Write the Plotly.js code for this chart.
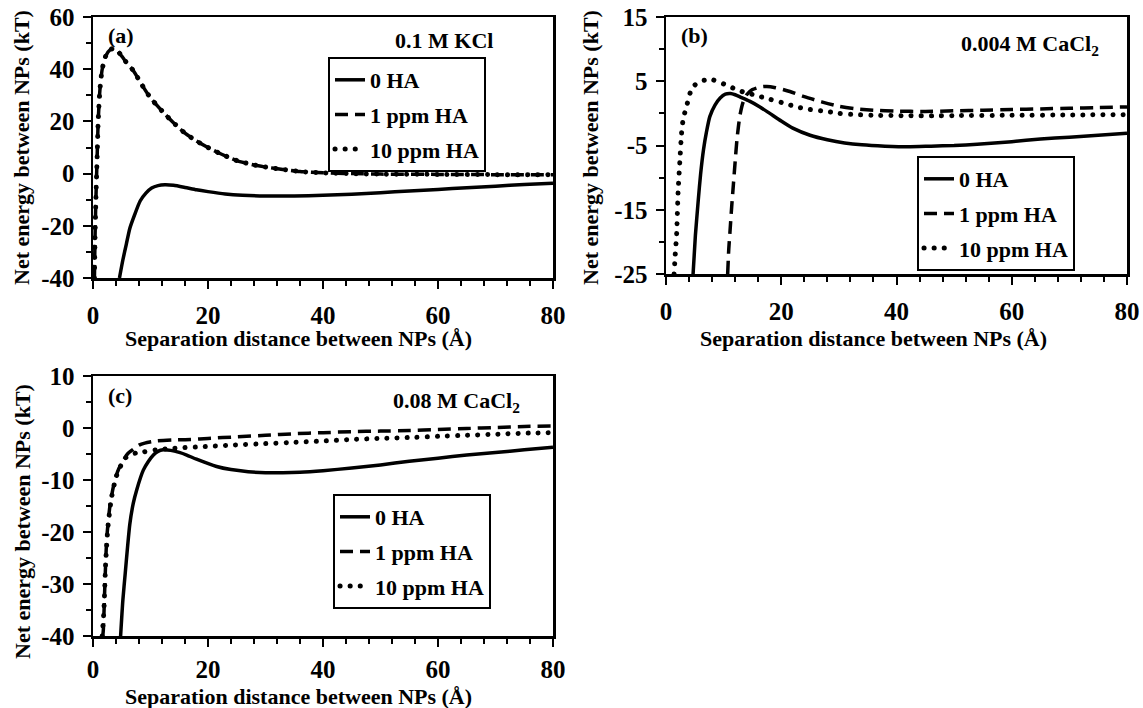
<!DOCTYPE html>
<html>
<head>
<meta charset="utf-8">
<script src="https://cdn.plot.ly/plotly-3.0.1.min.js"></script>
<style>html,body{margin:0;padding:0;background:#fff;}#chart{width:1143px;height:708px;}</style>
</head>
<body>
<div id="chart"></div>
<script>
// ---------- data ----------
const seriesNames = ["0 HA", "1 ppm HA", "10 ppm HA"];

// Panel (a) 0.1 M KCl
const a_x0 = [4.6,5.2,5.8,6.4,7.2,8.2,9.2,10.2,11.3,12.5,14,16,18,20,23,26,30,35,40,45,50,55,60,65,70,75,80];
const a_y0 = [-40,-33,-27,-21,-16,-10.5,-7.5,-5.5,-4.6,-4.3,-4.5,-5.3,-6.2,-6.9,-7.8,-8.3,-8.6,-8.6,-8.3,-7.9,-7.3,-6.7,-6.1,-5.4,-4.8,-4.2,-3.7];
const a_x1 = [0.25,0.35,0.5,0.7,0.9,1.2,1.6,2.2,3,3.8,5,6,7,8.5,10,12,14,16,18,20,22,25,28,30,33,36,40,45,50,60,70,80];
const a_y1 = [-40,-25,-10,5,20,32,40,45,47.5,48,45,42,39.5,34,29,24,19.5,15.5,12.5,10,7.8,5,3.3,2.5,1.6,0.8,0.3,0,-0.2,-0.3,-0.4,-0.4];
const a_x2 = [0.25,0.35,0.5,0.7,0.9,1.2,1.6,2.2,3,3.8,5,6,7,8.5,10,12,14,16,18,20,22,25,28,30,33,36,40,45,50,60,70,80];
const a_y2 = [-40,-25,-10,5,20,32,40,45,47.5,48,45,42,39.5,34,29,24,19.5,15.5,12.5,10,7.8,5,3.3,2.5,1.6,0.8,0.3,0,-0.2,-0.3,-0.4,-0.4];

// Panel (b) 0.004 M CaCl2
const b_x0 = [4.7,5.1,5.6,6,6.5,7,7.6,8.5,9.4,10.3,11.2,12,13,14.5,16.3,18,20,22,25,28,31,34,38,42,46,50,54,60,65,70,75,80];
const b_y0 = [-25,-19,-13.5,-9.5,-5.7,-3,-0.5,1.3,2.4,3,3.1,2.9,2.5,1.9,1,0,-1.2,-2.3,-3.4,-4.1,-4.6,-4.9,-5.1,-5.2,-5.1,-5,-4.8,-4.4,-4,-3.7,-3.4,-3.1];
const b_x1 = [10.7,10.9,11.1,11.4,11.7,12,12.3,12.6,12.9,13.4,14,15,16.3,17.5,19,21.5,24,27,30,33,36,40,45,50,55,60,65,70,75,80];
const b_y1 = [-25,-21,-18.5,-14.5,-11,-7.5,-4.2,-1.8,0,1.8,2.9,3.7,4.1,4.2,4,3.4,2.6,1.8,1.1,0.7,0.5,0.35,0.3,0.4,0.5,0.6,0.7,0.8,0.9,1.0];
const b_x2 = [1.4,1.6,1.85,2.1,2.4,2.7,3,3.6,4.2,5,5.9,7,8.2,9.4,10.5,12,13.5,15.2,18,20.4,22.7,25,28,30,33,36,40,50,60,70,80];
const b_y2 = [-25,-22,-18.7,-12.2,-7.5,-3.1,-0.8,1.2,3.2,4.4,5,5.2,5.2,4.8,4.4,3.8,3.3,2.9,2.2,1.6,1,0.6,0.3,0,-0.2,-0.3,-0.35,-0.35,-0.3,-0.25,-0.2];

// Panel (c) 0.08 M CaCl2
const c_x0 = [4.8,5.2,5.6,6,6.4,7,7.6,8.75,9.6,10.5,11.3,12.2,13.5,15,16.3,18,21.5,24,27,30,33,36,40,45,50,55,60,65,70,75,80];
const c_y0 = [-40,-33,-28,-23,-18.5,-14.5,-11.9,-8.1,-6.5,-5.2,-4.5,-4.2,-4.3,-4.7,-5.2,-6,-7.4,-8,-8.4,-8.6,-8.6,-8.5,-8.2,-7.7,-7.1,-6.4,-5.8,-5.2,-4.7,-4.2,-3.7];
const c_x1 = [1.7,1.8,2.1,2.4,3,3.8,4.5,5.3,6,7,8,9,11,14,17,20,25,30,35,40,45,50,55,60,65,70,75,80];
const c_y1 = [-40,-38.8,-29,-21,-14.5,-10,-7.8,-6.2,-5,-4.1,-3.3,-2.9,-2.5,-2.3,-2.2,-2,-1.7,-1.4,-1.1,-0.9,-0.7,-0.6,-0.5,-0.3,-0.1,0.1,0.3,0.4];
const c_x2 = [1.6,1.9,2.2,2.6,3.2,4,4.8,5.6,6.4,7.5,8.75,11,14,19,24,30,34,40,45,50,56,60,65,70,75,80];
const c_y2 = [-40,-35,-26,-19,-13.5,-9.5,-7.3,-5.8,-5.2,-4.8,-4.6,-4.2,-3.9,-3.6,-3.3,-3,-2.8,-2.5,-2.2,-2,-1.8,-1.6,-1.4,-1.2,-1,-0.9];

const xTickVals = [0, 20, 40, 60, 80];
const aTickVals = [-40, -20, 0, 20, 40, 60];
const bTickVals = [-25, -15, -5, 5, 15];
const cTickVals = [-40, -30, -20, -10, 0, 10];

// ---------- styles ----------
const FONT = '"Liberation Serif", "Times New Roman", serif';
const lineStyles = [
  {color: "black", width: 3.5, dash: "solid"},
  {color: "black", width: 3.5, dash: "13px,7px"},
  {color: "black", width: 5, dash: "0.1px,10px"}
];

function mk(x, y, i, ax, lg, grp) {
  return {
    x: x, y: y, type: "scatter", mode: "lines",
    name: seriesNames[i], line: Object.assign({shape: "spline", smoothing: 0.6}, lineStyles[i]),
    xaxis: "x" + ax, yaxis: "y" + ax, legend: lg, legendgroup: grp + i,
    showlegend: true
  };
}

const traces = [
  mk(a_x0, a_y0, 0, "", "legend", "a"), mk(a_x1, a_y1, 1, "", "legend", "a"), mk(a_x2, a_y2, 2, "", "legend", "a"),
  mk(b_x0, b_y0, 0, "2", "legend2", "b"), mk(b_x1, b_y1, 1, "2", "legend2", "b"), mk(b_x2, b_y2, 2, "2", "legend2", "b"),
  mk(c_x0, c_y0, 0, "3", "legend3", "c"), mk(c_x1, c_y1, 1, "3", "legend3", "c"), mk(c_x2, c_y2, 2, "3", "legend3", "c")
];

const W = 1143, H = 708;
const px = v => v / W, py = v => 1 - v / H;
const bold = v => "<b>" + v + "</b>";

function xax(domain, anchor, standoff) {
  return {
    domain: domain, anchor: anchor, range: [0, 80],
    tickmode: "array", tickvals: xTickVals, ticktext: xTickVals.map(bold),
    showline: true, mirror: true, linecolor: "black", linewidth: 2.5,
    ticks: "outside", ticklen: 8, tickwidth: 2, tickcolor: "black", ticklabelstandoff: standoff,
    minor: {dtick: 4, tick0: 0, ticks: "outside", ticklen: 5, tickwidth: 2, tickcolor: "black", showgrid: false},
    showgrid: false, zeroline: false,
    tickfont: {family: FONT, size: 25, color: "black"}
  };
}
function yax(domain, anchor, range, vals, minor) {
  return {
    domain: domain, anchor: anchor, range: range,
    tickmode: "array", tickvals: vals, ticktext: vals.map(bold),
    showline: true, mirror: true, linecolor: "black", linewidth: 2.5,
    ticks: "outside", ticklen: 8, tickwidth: 2, tickcolor: "black", ticklabelstandoff: 3,
    minor: {dtick: minor, tick0: range[0], ticks: "outside", ticklen: 5, tickwidth: 2, tickcolor: "black", showgrid: false},
    showgrid: false, zeroline: false,
    tickfont: {family: FONT, size: 25, color: "black"}
  };
}

function legendAt(left, top) {
  return {
    x: px(left), y: py(top), xanchor: "left", yanchor: "top",
    bordercolor: "black", borderwidth: 2, bgcolor: "white",
    font: {family: FONT, size: 22, color: "black", weight: "bold"},
    tracegroupgap: 3, itemwidth: 30
  };
}

const ann = [];
function txt(t, x, y, xanchor, size, angle) {
  ann.push({text: bold(t), x: px(x), y: py(y), xref: "paper", yref: "paper", xanchor: xanchor, yanchor: "middle",
    showarrow: false, textangle: angle || 0,
    font: {family: FONT, size: size, color: "black"}});
}
const xTitle = "Separation distance between NPs (Å)";
const yTitle = "Net energy between NPs (kT)";
txt(xTitle, 298, 338, "center", 22); txt(xTitle, 873, 338, "center", 22); txt(xTitle, 298, 696, "center", 22);
txt(yTitle, 22, 148, "center", 22, -90); txt(yTitle, 591, 148, "center", 22, -90); txt(yTitle, 22, 522, "center", 22, -90);
txt("(a)", 106, 36, "left", 22); txt("(b)", 679, 36, "left", 22); txt("(c)", 106, 395, "left", 22);
txt("0.1 M KCl", 495, 41, "right", 22);
txt("0.004 M CaCl<sub>2</sub>", 1101, 45, "right", 22);
txt("0.08 M CaCl<sub>2</sub>", 522, 402, "right", 22);

const layout = {
  width: W, height: H, margin: {l: 0, r: 0, t: 0, b: 0},
  paper_bgcolor: "white", plot_bgcolor: "white", showlegend: true,
  xaxis: xax([px(93), px(553)], "y", 5),
  yaxis: yax([py(278), py(17)], "x", [-40, 60], aTickVals, 10),
  xaxis2: xax([px(666), px(1127)], "y2", 5),
  yaxis2: yax([py(274), py(17)], "x2", [-25, 15], bTickVals, 5),
  xaxis3: xax([px(93), px(553)], "y3", 1),
  yaxis3: yax([py(636), py(376)], "x3", [-40, 10], cTickVals, 5),
  legend: legendAt(328, 57),
  legend2: legendAt(917, 156),
  legend3: legendAt(333, 494),
  annotations: ann
};

function roundDots() {
  document.querySelectorAll("path.js-line").forEach(p => {
    const d = p.style.strokeDasharray || p.getAttribute("stroke-dasharray") || "";
    if (d.indexOf("0.1") === 0) p.style.strokeLinecap = "round";
  });
}

Plotly.newPlot("chart", traces, layout, {staticPlot: true, displayModeBar: false}).then(roundDots);
</script>
</body>
</html>
